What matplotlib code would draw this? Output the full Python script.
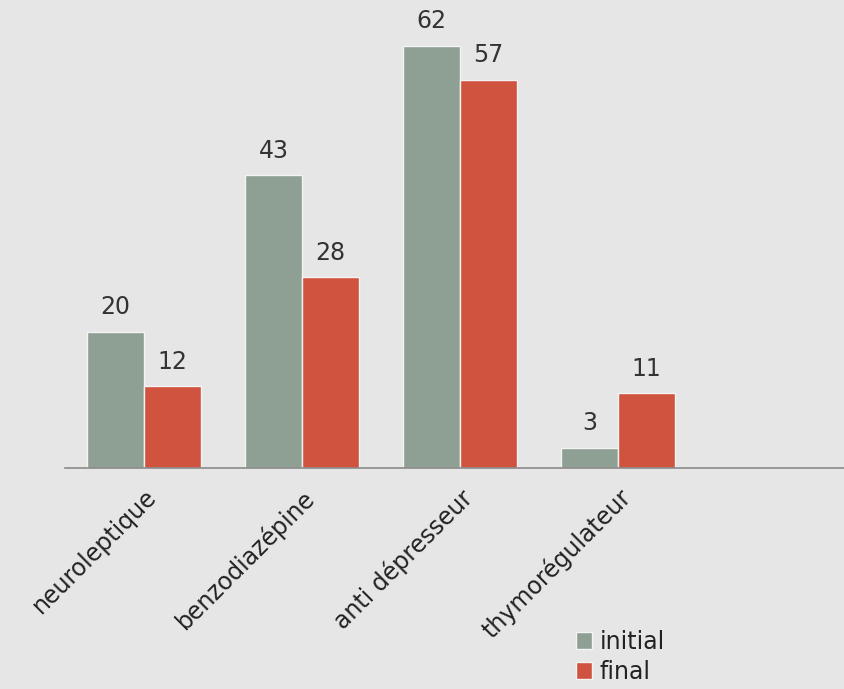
import matplotlib
matplotlib.use("Agg")
import matplotlib.pyplot as plt
import numpy as np

categories = ["neuroleptique", "benzodiazépine", "anti dépresseur", "thymorégulateur", ""]
initial = [20, 43, 62, 3, 0]
final = [12, 28, 57, 11, 0]
n_shown = 4

plt.rcParams['font.family'] = ['DejaVu Sans']

bg = '#e6e6e6'
col_init = '#8e9f94'
col_final = '#d0533f'

fig = plt.figure(figsize=(8.45, 6.89), dpi=100, facecolor=bg)
W, H = 845, 689
left, right, base, top = 65, 845, 468, 5
ax = fig.add_axes([left / W, 1 - base / H, (right - left) / W, (base - top) / H])
ax.set_facecolor(bg)

x = np.arange(len(categories))
w = 0.36
b1 = ax.bar(x[:n_shown] - w / 2, initial[:n_shown], w, color=col_init,
            edgecolor='#f4f4f4', linewidth=1, label='initial')
b2 = ax.bar(x[:n_shown] + w / 2, final[:n_shown], w, color=col_final,
            edgecolor='#f4f4f4', linewidth=1, label='final')

for bars in (b1, b2):
    for r in bars:
        ax.annotate(f"{int(r.get_height())}", (r.get_x() + r.get_width() / 2, r.get_height()),
                    xytext=(0, 9), textcoords='offset points', ha='center', va='bottom',
                    fontsize=17, color='#333333')

ax.set_ylim(0, 68)
ax.set_xlim(-0.5, -0.5 + (right - left) / 158)
ax.set_yticks([])
ax.set_xticks(x[:n_shown])
ax.set_xticklabels(categories[:n_shown], rotation=45, ha='right', va='top',
                   rotation_mode='anchor', fontsize=17, color='#222222')
ax.tick_params(axis='x', length=0, pad=12)
for s in ['top', 'right', 'left']:
    ax.spines[s].set_visible(False)
ax.spines['bottom'].set_color('#8a8a8a')
ax.spines['bottom'].set_linewidth(1.2)

fig.legend(loc='upper left', bbox_to_anchor=(564 / W, 1 - 618 / H), frameon=False,
           fontsize=17, handlelength=0.7, handleheight=0.7, handletextpad=0.3,
           labelspacing=0.25, borderpad=0, labelcolor='#222222')

fig.savefig("out.png", dpi=100, facecolor=bg)
